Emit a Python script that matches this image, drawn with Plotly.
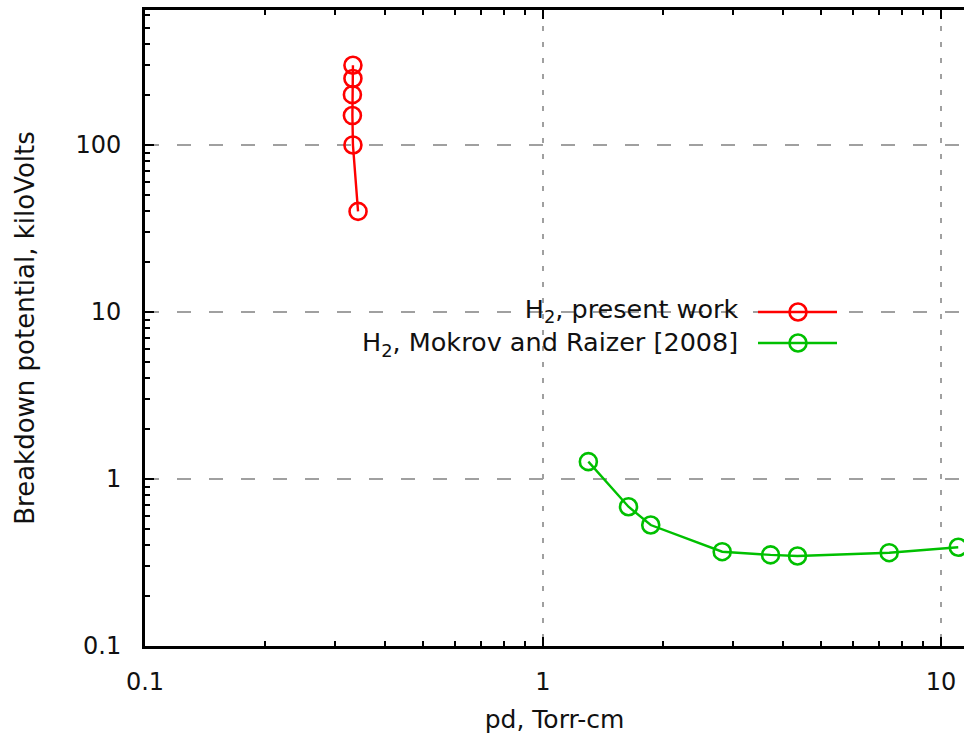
import plotly.graph_objects as go

# ---- data ----
red_x = [0.343, 0.333, 0.332, 0.332, 0.333, 0.333]
red_y = [40, 100, 150, 200, 250, 300]
green_x = [1.30, 1.64, 1.865, 2.82, 3.73, 4.36, 7.41, 11.05]
green_y = [1.27, 0.682, 0.530, 0.367, 0.351, 0.346, 0.362, 0.390]
x_ticks = [0.1, 1, 10]
x_ticktext = ["0.1", "1", "10"]
y_ticks = [0.1, 1, 10, 100]
y_ticktext = ["0.1", "1", "10", "100"]
x_minor = [0.2, 0.3, 0.4, 0.5, 0.6, 0.7, 0.8, 0.9, 2, 3, 4, 5, 6, 7, 8, 9]
y_minor = [0.2, 0.3, 0.4, 0.5, 0.6, 0.7, 0.8, 0.9, 2, 3, 4, 5, 6, 7, 8, 9,
           20, 30, 40, 50, 60, 70, 80, 90, 200, 300, 400, 500, 600]
names = ["H<sub>2</sub>, present work", "H<sub>2</sub>, Mokrov and Raizer [2008]"]
colors = ["#ff0000", "#00c000"]

FONT = "DejaVu Sans"
W, H = 964, 734
PL, PT, PB = 145, 10, 646     # plot area in window pixels
ML, MT, MB = PL, PT, H - PB
PW = W - PL
PH = PB - PT

def px(xp):
    return (xp - PL) / PW

def py(yp):
    return (PB - yp) / PH

marker = lambda c: dict(symbol="circle-open", size=17, color=c, line=dict(width=2.6, color=c))

fig = go.Figure()
fig.add_trace(go.Scatter(x=red_x, y=red_y, mode="lines+markers",
                         line=dict(color=colors[0], width=2.4), marker=marker(colors[0]),
                         showlegend=False))
fig.add_trace(go.Scatter(x=green_x, y=green_y, mode="lines+markers",
                         line=dict(color=colors[1], width=2.4), marker=marker(colors[1]),
                         showlegend=False))

# manual key (gnuplot style: text on left, sample on right)
key_y = [py(312), py(343)]
for i in range(2):
    fig.add_trace(go.Scatter(x=[px(758), px(798), px(837)], y=[key_y[i]] * 3,
                             mode="lines", line=dict(color=colors[i], width=2.4),
                             xaxis="x2", yaxis="y2", showlegend=False, hoverinfo="skip"))
    fig.add_trace(go.Scatter(x=[px(798)], y=[key_y[i]], mode="markers",
                             marker=marker(colors[i]),
                             xaxis="x2", yaxis="y2", showlegend=False, hoverinfo="skip"))
fig.add_annotation(x=px(739), y=(key_y[0] + key_y[1]) / 2, xref="paper", yref="paper",
                   text="<br>".join(names), showarrow=False, xanchor="right",
                   yanchor="middle", align="right", borderpad=0,
                   font=dict(family=FONT, size=25.5, color="#111"))

fig.add_shape(type="rect", xref="paper", yref="paper",
              x0=px(262), x1=px(840), y0=py(362), y1=py(294),
              fillcolor="white", line=dict(width=0), layer="between")

def axis(tv, tt, mv, dash, title, tsize, standoff, tls):
    return dict(type="log", showline=True, linecolor="black", linewidth=3,
                ticks="inside", ticklen=9, tickwidth=2, tickcolor="black",
                tickvals=tv, ticktext=tt, ticklabelstandoff=tls,
                showgrid=True, gridcolor="#a0a0a0", gridwidth=2, griddash=dash,
                tickfont=dict(family=FONT, size=24, color="#111"),
                zeroline=False,
                minor=dict(tickvals=mv, ticks="inside", ticklen=5, tickwidth=2,
                           tickcolor="black", showgrid=False),
                title=dict(text=title, font=dict(family=FONT, size=tsize, color="#111"),
                           standoff=standoff))

fig.update_layout(
    width=W, height=H,
    margin=dict(l=ML, r=0, t=MT, b=MB),
    paper_bgcolor="white", plot_bgcolor="white",
    showlegend=False,
    xaxis=dict(range=[-1, 1.0578], mirror="ticks",
               **axis(x_ticks, x_ticktext, x_minor, "5px,11px", "pd, Torr-cm", 25, 22, 12)),
    yaxis=dict(range=[-1, 2.808], mirror=False,
               **axis(y_ticks, y_ticktext, y_minor, "14px,18px",
                      "Breakdown potential, kiloVolts", 26, 34, 16)),
    xaxis2=dict(overlaying="x", range=[0, 1], visible=False),
    yaxis2=dict(overlaying="y", range=[0, 1], visible=False),
)

fig.write_html("out.html", config={"displayModeBar": False},
               post_script="document.body.style.margin='0';")
